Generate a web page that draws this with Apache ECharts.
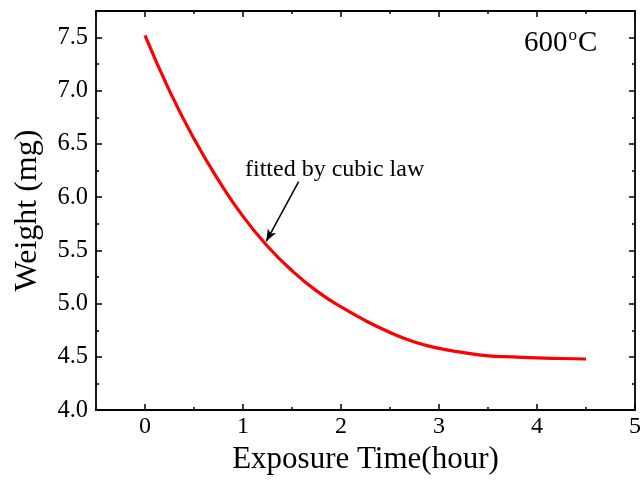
<!DOCTYPE html>
<html>
<head>
<meta charset="utf-8">
<script src="https://cdn.jsdelivr.net/npm/echarts@6/dist/echarts.min.js"></script>
<style>
  html, body { margin: 0; padding: 0; background: #fff; }
  #chart { width: 644px; height: 480px; }
</style>
</head>
<body>
<div id="chart"></div>
<script>
// 曲线数据
const times = [0, 0.25, 0.5, 0.75, 1.0, 1.25, 1.5, 1.75, 2.0, 2.25, 2.5, 2.75, 3.0, 3.25, 3.5, 3.75, 4.0, 4.25, 4.5]
const weights = [7.52, 7.00, 6.55, 6.16, 5.82, 5.54, 5.31, 5.12, 4.97, 4.84, 4.73, 4.64, 4.58, 4.54, 4.51, 4.50, 4.49, 4.485, 4.48]

const xRange = [-0.5, 5]
const yRange = [4.0, 7.75]

// 注释
const noteText = 'fitted by cubic law'
const noteArrow = [[1.568, 6.146], [1.237, 5.586]]
const tempText = '600'

const font = "'Liberation Serif', 'Times New Roman', serif"

let chart = echarts.init(document.getElementById('chart'))

const lineStyle = { color: '#000', width: 1.8 }
const tickStyle = { color: '#000', width: 1.5 }
const majorX = (pos) => ({
  type: 'value', position: pos, min: xRange[0], max: xRange[1],
  axisLine: { show: true, onZero: false, lineStyle },
  axisTick: { show: true, inside: true, length: 6, lineStyle: tickStyle },
  axisLabel: { show: pos === 'bottom', showMinLabel: false, color: '#000', fontFamily: font, fontSize: 24, margin: 5 },
  splitLine: { show: false }
})
const minorX = (pos) => ({
  type: 'value', position: pos, min: xRange[0], max: xRange[1], interval: 0.5,
  axisLine: { show: false, onZero: false },
  axisTick: { show: true, inside: true, length: 3, lineStyle: tickStyle },
  axisLabel: { show: false },
  splitLine: { show: false }
})
const majorY = (pos) => ({
  type: 'value', position: pos, min: yRange[0], max: yRange[1], interval: 0.5,
  axisLine: { show: true, onZero: false, lineStyle },
  axisTick: { show: true, inside: true, length: 6, lineStyle: tickStyle },
  axisLabel: {
    show: pos === 'left', showMaxLabel: false, color: '#000', fontFamily: font, fontSize: 24.5, margin: 8,
    formatter: v => v.toFixed(1)
  },
  splitLine: { show: false }
})
const minorY = (pos) => ({
  type: 'value', position: pos, min: yRange[0], max: yRange[1], interval: 0.25,
  axisLine: { show: false, onZero: false },
  axisTick: { show: true, inside: true, length: 3, lineStyle: tickStyle },
  axisLabel: { show: false },
  splitLine: { show: false }
})

const xMain = majorX('bottom')
xMain.name = 'Exposure Time(hour)'
xMain.nameLocation = 'middle'
xMain.nameGap = 30
xMain.nameTextStyle = { color: '#000', fontFamily: font, fontSize: 31 }

const yMain = majorY('left')
yMain.name = 'Weight (mg)'
yMain.nameLocation = 'middle'
yMain.nameGap = 52
yMain.nameTextStyle = { color: '#000', fontFamily: font, fontSize: 32 }

const option = {
  animation: false,
  backgroundColor: '#fff',
  grid: { left: 96, right: 6, top: 11, bottom: 66 },
  xAxis: [xMain, minorX('bottom'), majorX('top'), minorX('top')],
  yAxis: [yMain, minorY('left'), majorY('right'), minorY('right')],
  graphic: [
    {
      type: 'text', left: 245, top: 158,
      style: { text: noteText, fill: '#000', font: '24px ' + font }
    },
    {
      type: 'text', left: 524, top: 27,
      style: {
        text: tempText + '{sup|o}C',
        fill: '#000',
        font: '29px ' + font,
        rich: { sup: { fontSize: 17, fontFamily: font, verticalAlign: 'top', padding: [0, 1, 16, 1] } }
      }
    }
  ],
  series: [
    {
      type: 'line',
      xAxisIndex: 0,
      yAxisIndex: 0,
      data: times.map((t, i) => [t, weights[i]]),
      smooth: true,
      symbol: 'none',
      lineStyle: { color: '#ff0000', width: 3.2 },
      markLine: {
        silent: true,
        symbol: ['none', 'arrow'],
        symbolSize: [7, 12],
        label: { show: false },
        lineStyle: { color: '#000', width: 1.5, type: 'solid' },
        data: [[{ coord: noteArrow[0] }, { coord: noteArrow[1] }]]
      }
    }
  ]
}

chart.setOption(option)
</script>
</body>
</html>
